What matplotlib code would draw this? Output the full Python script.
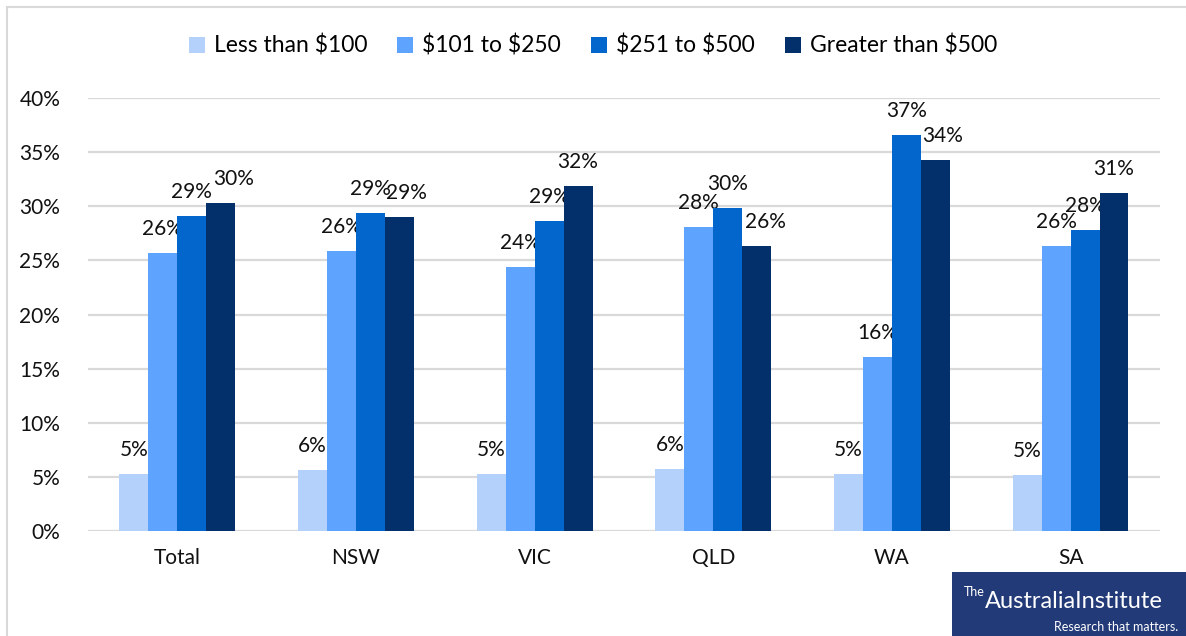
import numpy as np
import matplotlib.pyplot as plt
from matplotlib.patches import Rectangle

plt.rcParams['font.family'] = ['Lato', 'DejaVu Sans']

regions = ['Total', 'NSW', 'VIC', 'QLD', 'WA', 'SA']
series = [r'Less than \$100', r'\$101 to \$250', r'\$251 to \$500', r'Greater than \$500']
under_100 = [5.3, 5.6, 5.3, 5.7, 5.3, 5.2]
from_101_to_250 = [25.7, 25.9, 24.4, 28.1, 16.1, 26.3]
from_251_to_500 = [29.1, 29.4, 28.6, 29.8, 36.6, 27.8]
over_500 = [30.3, 29.0, 31.9, 26.3, 34.3, 31.2]
colors = ['#B3D1FB', '#5EA3FD', '#0366CD', '#032F6B']

values = [under_100, from_101_to_250, from_251_to_500, over_500]
# labels of the last series were nudged right in the original to avoid overlap (points)
last_nudge = [9, 5, 0, 6, 5, 0]

fig = plt.figure(figsize=(11.86, 6.36), dpi=100)
ax = fig.add_axes([0.0742, 0.165, 0.9038, 0.681])

x = np.arange(len(regions))
width = 0.162
for i, (name, vals, col) in enumerate(zip(series, values, colors)):
    pos = x + (i - 1.5) * width
    bars = ax.bar(pos, np.array(vals) / 100, width, color=col, label=name, zorder=3)
    for j, (b, v) in enumerate(zip(bars, vals)):
        dx = last_nudge[j] if i == 3 else 0
        ax.annotate(f'{v:.0f}%', (b.get_x() + b.get_width() / 2, b.get_height()),
                    xytext=(dx, 13), textcoords='offset points',
                    ha='center', va='baseline', fontsize=15, color='#111111')

ax.set_xlim(-0.5, len(regions) - 0.5)
ax.set_ylim(0, 0.40)
ax.set_yticks(np.arange(0, 0.41, 0.05))
ax.set_yticklabels([f'{t}%' for t in range(0, 41, 5)])
ax.set_xticks(x)
ax.set_xticklabels(regions)
ax.tick_params(axis='y', length=0, pad=20, labelsize=15, labelcolor='#111111')
ax.tick_params(axis='x', length=0, pad=12, labelsize=15, labelcolor='#111111')
ax.grid(axis='y', color='#D9D9D9', linewidth=1.6, zorder=0)
for s in ax.spines.values():
    s.set_visible(False)

fig.legend(loc='center', bbox_to_anchor=(0.5, 0.928), ncol=4, frameon=False,
           fontsize=16.5, handlelength=0.7, handleheight=0.7, handletextpad=0.4,
           columnspacing=1.3)

# light frame around the chart
fig.patches.append(Rectangle((7 / 1186, -0.05), 1180 / 1186, 1 - 7 / 636 + 0.05,
                             transform=fig.transFigure, fill=False,
                             edgecolor='#D9D9D9', linewidth=1.5))

# logo block, bottom right
fig.patches.append(Rectangle((952 / 1186, 0), 234 / 1186, 64 / 636,
                             transform=fig.transFigure, facecolor='#233A78',
                             edgecolor='none', zorder=5))
fig.text(964 / 1186, 1 - 598 / 636, 'The', color='white', fontsize=9,
         va='bottom', zorder=6)
fig.text(985 / 1186, 1 - 601 / 636, 'AustraliaInstitute', color='white', fontsize=17,
         va='center', zorder=6)
fig.text(1178 / 1186, 1 - 627 / 636, 'Research that matters.', color='white', fontsize=9,
         ha='right', va='center', zorder=6)

plt.savefig('out.png', dpi=100)
